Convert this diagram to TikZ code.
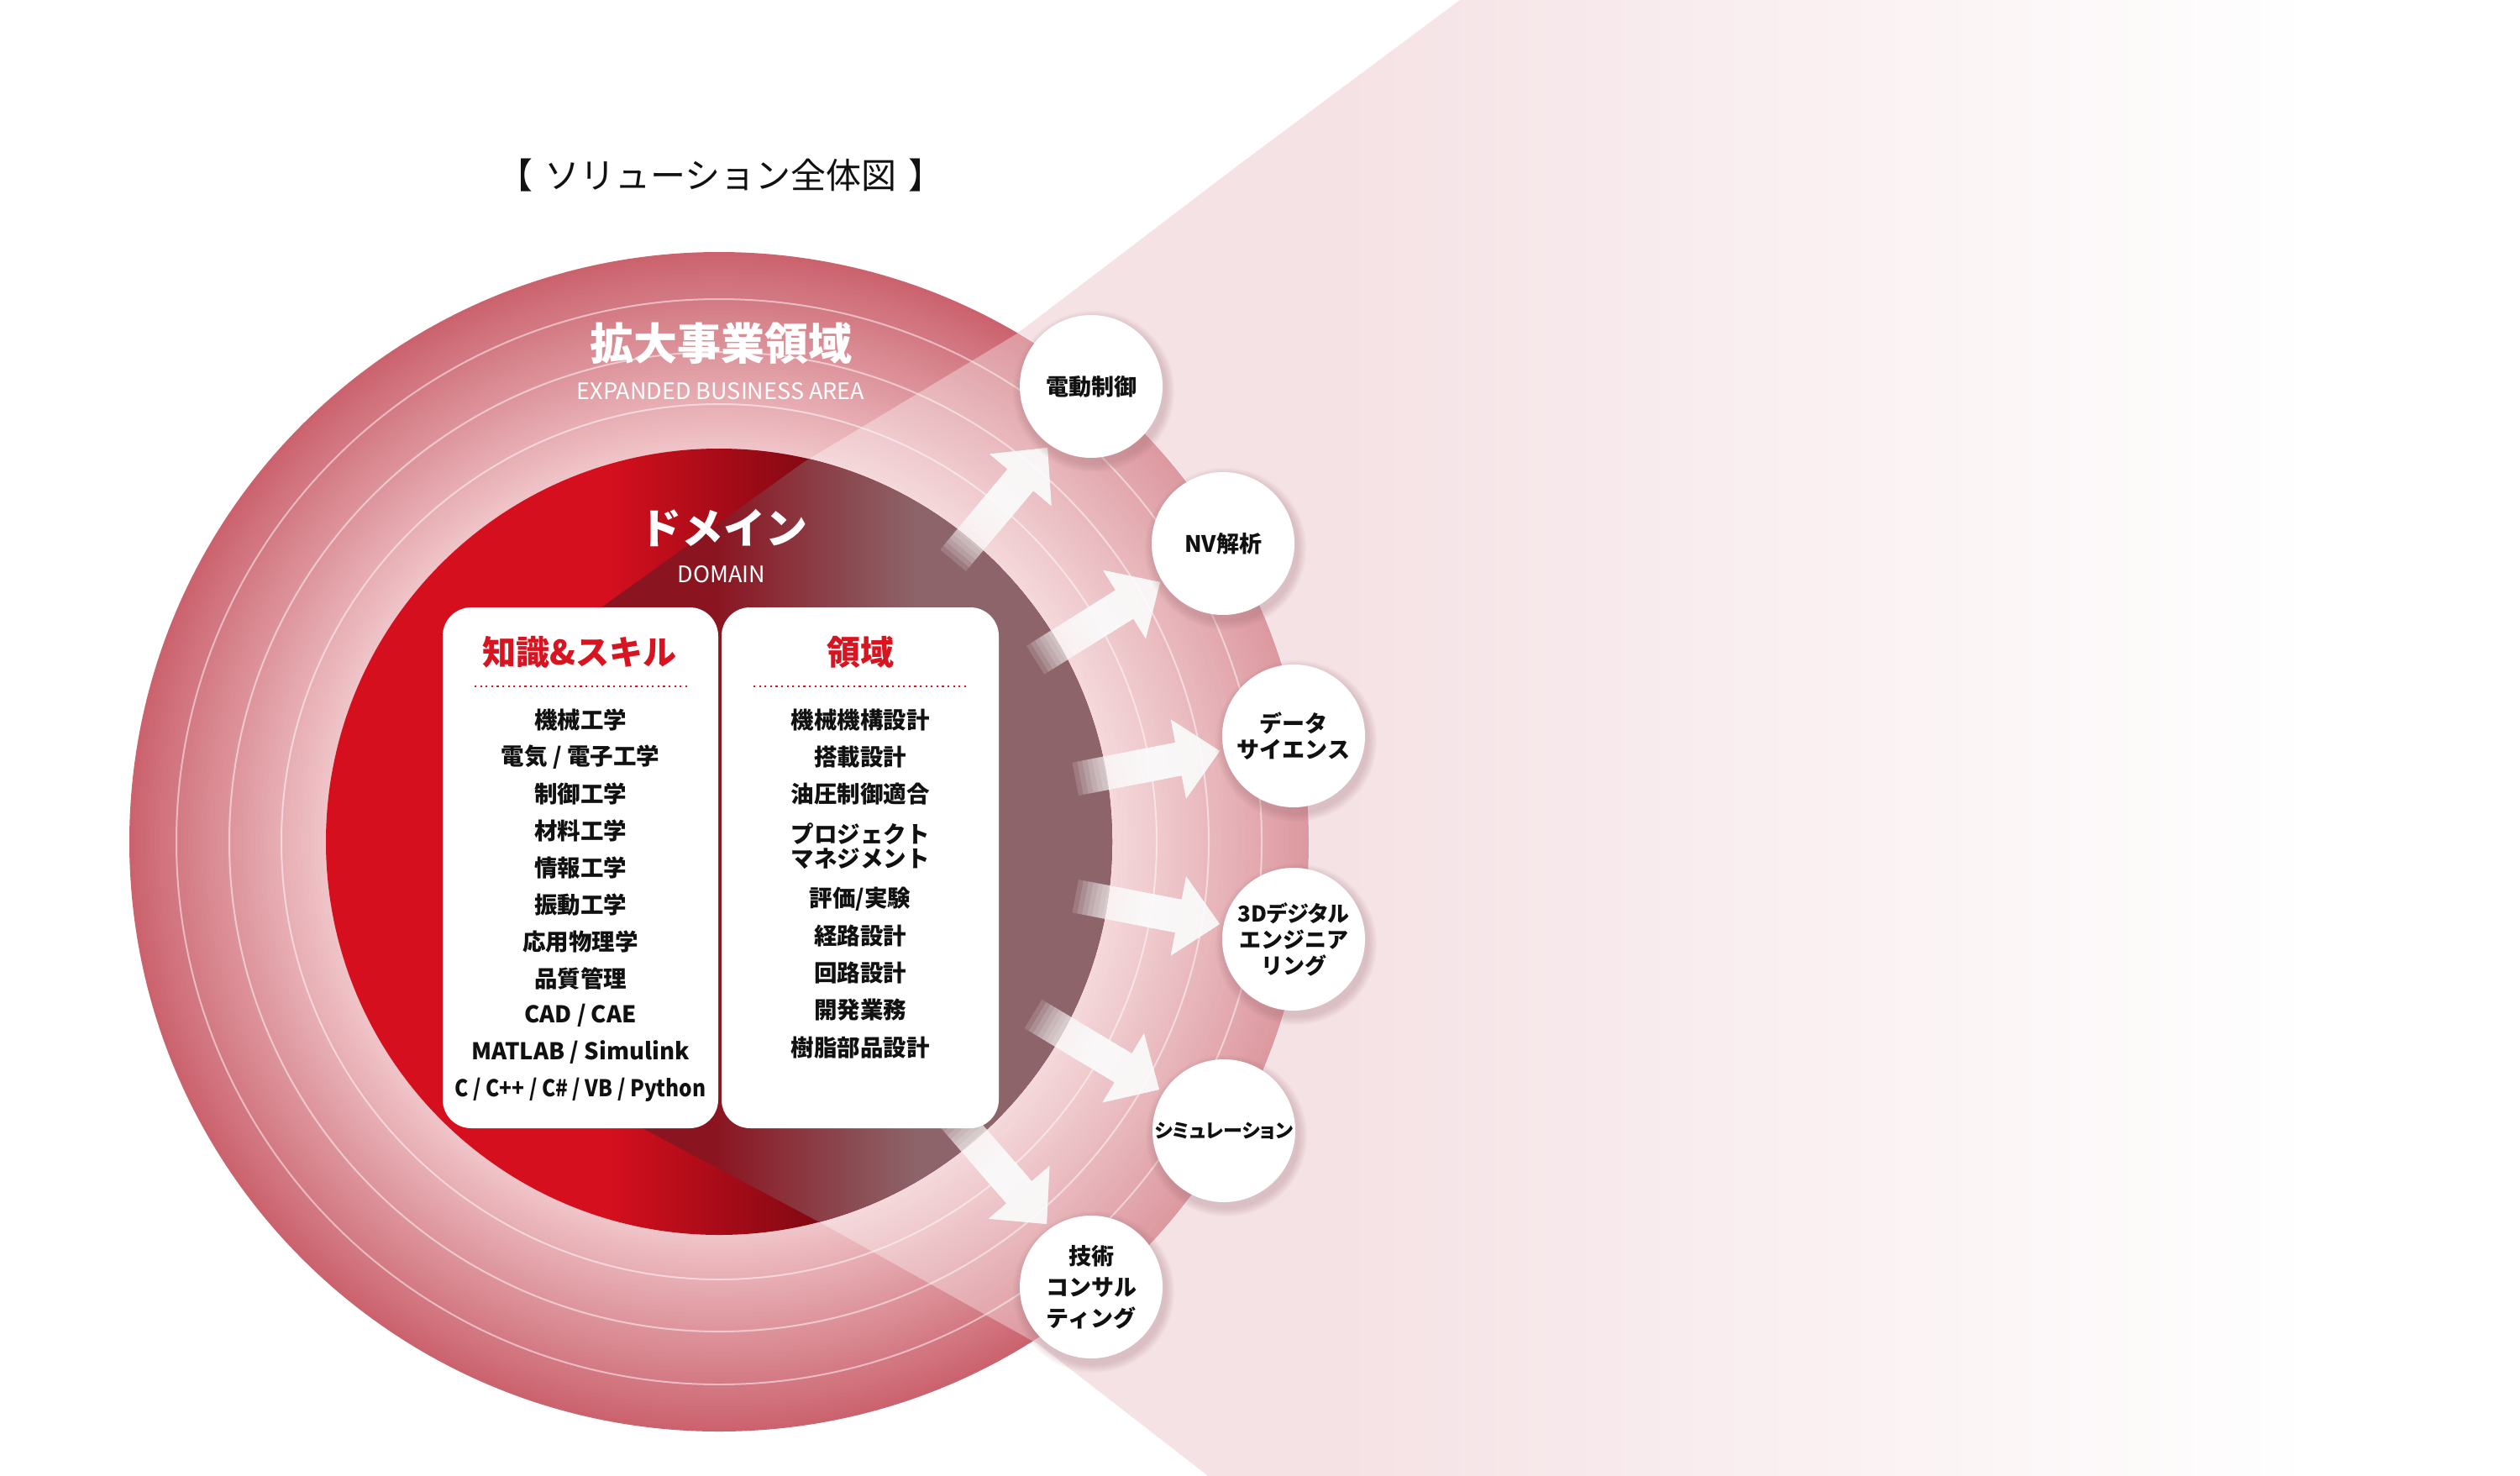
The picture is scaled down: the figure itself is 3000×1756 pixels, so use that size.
\documentclass[tikz,border=0pt]{standalone}
\usepackage{fontspec}
\setmainfont{Noto Sans CJK JP}
\definecolor{fanpink}{HTML}{F5E2E5}
\definecolor{ringdark}{HTML}{CB636E}
\definecolor{ringlight}{HTML}{F0C6CA}
\definecolor{domred}{HTML}{D60F1E}
\definecolor{domdark}{HTML}{850913}
\definecolor{mauve}{HTML}{8C6469}
\definecolor{mauvedge}{HTML}{8A1420}
\definecolor{boxred}{HTML}{D7141F}
\definecolor{shadowc}{HTML}{9A6A72}
\definecolor{txt}{HTML}{111111}
\newcommand\fanpath{(716,723) -- (957,550) -- (1211,397) -- (1475,196) -- (1738,0) -- (1765,-20) -- (3010,-20) -- (3010,1776) -- (1450,1776) -- (1437,1756) -- (1236,1600) -- (976,1455) -- (763,1342) -- (640,1030) -- cycle}
\newcommand\farrow[3]{%
  \begin{scope}[shift={(#1,#2)}, rotate=#3]
    \foreach \k in {0,...,14}{%
      \pgfmathsetmacro\xk{-175+\k*6}
      \fill[white, opacity=0.15] (\xk,-20) -- (-50,-20) -- (-50,-48) -- (0,0) -- (-50,48) -- (-50,20) -- (\xk,20) -- cycle;
    }
  \end{scope}}
\newcommand\bubble[5][]{%
  \foreach \s in {0,...,5}{\fill[shadowc,opacity=0.05] (#2+3,#3+6) circle ({87+1.8*\s});}
  \node[bub,#1] (#4) at (#2,#3) {#5};}
\begin{document}
\begin{tikzpicture}[x=1pt,y=-1pt,
  item/.style={inner sep=0pt, text=txt, font=\bfseries\fontsize{27.5}{33}\selectfont},
  head/.style={inner sep=0pt, text=boxred, font=\bfseries\fontsize{40}{48}\selectfont},
  panel/.style={fill=white, rounded corners=34pt, inner sep=0pt},
  bub/.style={circle, fill=white, minimum size=170pt, inner sep=0pt, align=center, text=txt, font=\bfseries\fontsize{27}{33}\selectfont},
  dotline/.style={draw=boxred, line width=2.2pt, dash pattern=on 2.2pt off 4.4pt},
  wtxt/.style={inner sep=0pt, text=white}
]
\useasboundingbox (0,0) rectangle (3000,1756);
\fill[white] (0,0) rectangle (3000,1756);
\coordinate (C) at (856,1002);

% light fan outside
\begin{scope}
  \clip \fanpath;
  \fill[fanpink] (600,-30) rectangle (1600,1790);
  \shade[left color=fanpink, right color=white] (1600,-30) rectangle (2750,1790);
\end{scope}

% expanded ring
\foreach \i in {0,...,47}{%
  \pgfmathsetmacro\r{702-\i*5}
  \pgfmathsetmacro\p{100*\i/47}
  \fill[ringlight!\p!ringdark] (C) circle (\r);
}
\foreach \r in {646,583,521}{\draw[white, opacity=0.5, line width=2pt] (C) circle (\r);}
\begin{scope}
  \clip \fanpath;
  \fill[white, opacity=0.35, even odd rule] (C) circle (703) (C) circle (467);
\end{scope}

% domain
\begin{scope}
  \clip (C) circle (468);
  \fill[domred] (380,520) rectangle (720,1480);
  \shade[left color=domred, right color=domdark] (720,520) rectangle (960,1480);
  \fill[domdark] (960,520) rectangle (1330,1480);
  \clip \fanpath;
  \fill[mauvedge] (600,520) rectangle (850,1480);
  \shade[left color=mauvedge, right color=mauve] (850,520) rectangle (1090,1480);
  \fill[mauve] (1090,520) rectangle (1330,1480);
\end{scope}

% arrows
\farrow{1247}{533}{50}
\farrow{1381}{693}{32}
\farrow{1452}{894}{11}
\farrow{1452}{1100}{-11}
\farrow{1380}{1297}{-31}
\farrow{1246}{1457}{-49}

% titles
\node[inner sep=0pt, text=txt, font=\fontsize{42}{50}\selectfont] (title) at (858,209) {【\hspace{14pt}ソリューション全体図\hspace{14pt}】};
\node[wtxt, font=\bfseries\fontsize{52}{60}\selectfont] (ebaj) at (858,409) {拡大事業領域};
\node[wtxt, font=\fontsize{27}{32}\selectfont] (ebae) at (858,466) {EXPANDED BUSINESS AREA};
\node[wtxt, font=\bfseries\fontsize{50}{60}\selectfont] (domj) at (861,628) {ドメイン};
\node[wtxt, font=\fontsize{27}{32}\selectfont] (dome) at (859,684) {DOMAIN};

% panels
\node[panel, minimum width=328pt, minimum height=620pt] (kpanel) at (691,1033) {};
\node[panel, minimum width=330pt, minimum height=620pt] (rpanel) at (1024,1033) {};
\node[head] (khead) at (690,776) {知識\&スキル};
\node[head] (rhead) at (1024,776) {領域};
\draw[dotline] (565,817) -- (821,817);
\draw[dotline] (897,817) -- (1154,817);

\foreach \t [count=\i from 0] in {機械工学, 電気 / 電子工学, 制御工学, 材料工学, 情報工学, 振動工学, 応用物理学, 品質管理, CAD / CAE, MATLAB / Simulink}{%
  \node[item] (k\i) at (691,857+44*\i) {\t};
}
\node[item] (k10) at (691,1297) {\scalebox{0.89}[1]{C / C++ / C\# / VB / Python}};
\node[item] (r0) at (1024,857) {機械機構設計};
\node[item] (r1) at (1024,901) {搭載設計};
\node[item] (r2) at (1024,945) {油圧制御適合};
\node[item] (r3) at (1024,993) {プロジェクト};
\node[item] (r3b) at (1024,1022) {マネジメント};
\node[item] (r4) at (1024,1070) {評価/実験};
\node[item] (r5) at (1024,1114) {経路設計};
\node[item] (r6) at (1024,1158) {回路設計};
\node[item] (r7) at (1024,1202) {開発業務};
\node[item] (r8) at (1024,1247) {樹脂部品設計};

% bubbles
\bubble{1299}{460}{b1}{電動制御}
\bubble{1456}{647}{b2}{NV解析}
\bubble[font=\bfseries\fontsize{27}{31}\selectfont]{1540}{876}{b3}{データ\\サイエンス}
\bubble[font=\bfseries\fontsize{26}{31}\selectfont]{1540}{1118}{b4}{{\addfontfeatures{RawFeature=+palt}3Dデジタル}\\エンジニア\\リング}
\bubble[font=\bfseries\fontsize{23}{30}\selectfont]{1457}{1346}{b5}{{\addfontfeatures{RawFeature=+palt}シミュレーション}}
\bubble[font=\bfseries\fontsize{27}{37}\selectfont]{1299}{1532}{b6}{技術\\コンサル\\ティング}
\end{tikzpicture}
\end{document}
